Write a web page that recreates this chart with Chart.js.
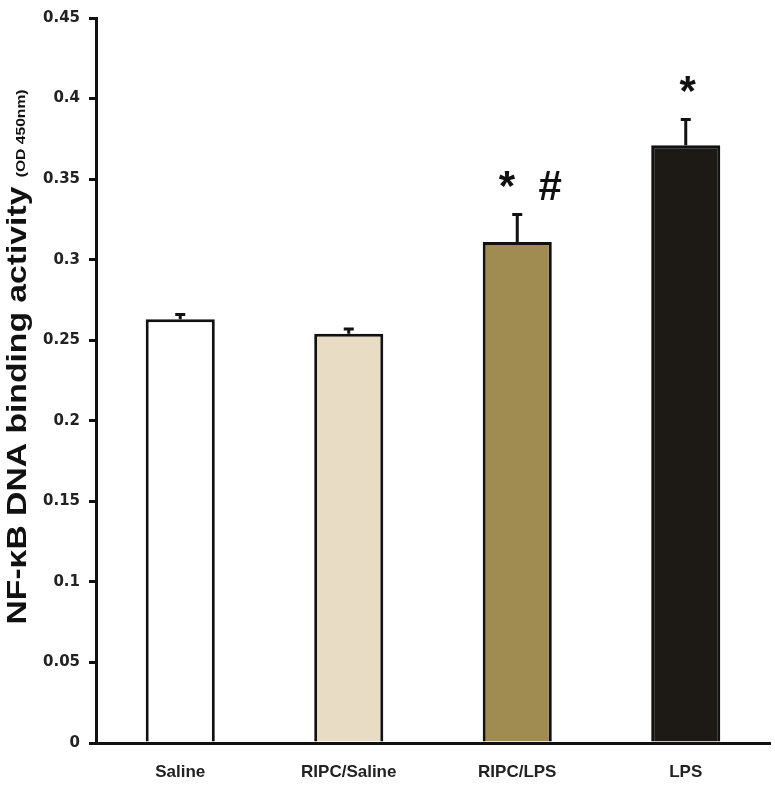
<!DOCTYPE html>
<html lang="en">
<head>
  <meta charset="UTF-8">
  <title>NF-kB DNA binding activity</title>
  <style>
    html, body {
      margin: 0;
      padding: 0;
      background: #fff;
    }
    .chart-box {
      width: 775px;
      height: 786px;
    }
  </style>
  <script src="https://cdn.jsdelivr.net/npm/chart.js"></script>
</head>
<body>
  <div class="chart-box">
    <canvas id="nfkbChart"></canvas>
  </div>

  <script>
    // data
    const groups = ['Saline', 'RIPC/Saline', 'RIPC/LPS', 'LPS'];
    const activity = [0.263, 0.254, 0.311, 0.371];
    const errorUp = [0.003, 0.003, 0.017, 0.016];
    const marks = ['', '', '*  #', '*'];
    const barColors = ['#ffffff', '#e9dcc5', '#a08c50', '#1d1915'];
    const yTicks = [0, 0.05, 0.1, 0.15, 0.2, 0.25, 0.3, 0.35, 0.4, 0.45];

    // error bars + significance marks
    const errorBars = {
      id: 'errorBars',
      afterDatasetsDraw(chart) {
        const ctx = chart.ctx;
        const yScale = chart.scales.y;
        const meta = chart.getDatasetMeta(0);
        ctx.save();
        ctx.strokeStyle = '#111';
        ctx.lineWidth = 3;
        meta.data.forEach((bar, i) => {
          const top = yScale.getPixelForValue(activity[i]);
          const cap = yScale.getPixelForValue(activity[i] + errorUp[i]);
          ctx.beginPath();
          ctx.moveTo(bar.x, top);
          ctx.lineTo(bar.x, cap);
          ctx.moveTo(bar.x - 5, cap);
          ctx.lineTo(bar.x + 5, cap);
          ctx.stroke();

          if (marks[i]) {
            ctx.fillStyle = '#111';
            ctx.font = 'bold 42px "Liberation Sans", Arial, sans-serif';
            ctx.textAlign = 'center';
            ctx.textBaseline = 'alphabetic';
            const shift = marks[i].length > 1 ? 13 : 2;
            ctx.fillText(marks[i], bar.x + shift, cap - 15);
          }
        });
        ctx.restore();
      }
    };

    // y axis title: big main text + small unit, stretched a bit along its length like the original
    const yTitle = {
      id: 'yTitle',
      afterDraw(chart) {
        const ctx = chart.ctx;
        const big = 'bold 28px "Liberation Sans", Arial, sans-serif';
        const small = 'bold 13px "Liberation Sans", Arial, sans-serif';
        const main = 'NF-\u03baB DNA binding activity ';
        const sub = '(OD 450nm)';
        const span = 535;
        ctx.save();
        ctx.font = big;
        const w1 = ctx.measureText(main).width;
        ctx.font = small;
        const w2 = ctx.measureText(sub).width;
        const stretch = span / (w1 + w2);
        ctx.translate(26, 357);
        ctx.rotate(-Math.PI / 2);
        ctx.scale(stretch, 1);
        ctx.fillStyle = '#111';
        ctx.textBaseline = 'alphabetic';
        ctx.textAlign = 'left';
        const start = -(w1 + w2) / 2;
        ctx.font = big;
        ctx.fillText(main, start, 0);
        ctx.font = small;
        ctx.fillText(sub, start + w1, -1);
        ctx.restore();
      }
    };

    new Chart(document.getElementById('nfkbChart'), {
      type: 'bar',
      data: {
        labels: groups,
        datasets: [{
          data: activity,
          backgroundColor: barColors,
          borderColor: '#111',
          borderWidth: 3,
          categoryPercentage: 1,
          barPercentage: 0.41
        }]
      },
      options: {
        responsive: true,
        maintainAspectRatio: false,
        animation: false,
        layout: {
          padding: { top: 13, right: 5, left: 0, bottom: 0 }
        },
        plugins: {
          legend: { display: false },
          tooltip: { enabled: false }
        },
        scales: {
          x: {
            afterFit(scale) { scale.height = 43; },
            grid: { display: false },
            border: { display: true, color: '#111', width: 3 },
            ticks: {
              color: '#222',
              padding: 11,
              font: { family: '"Liberation Sans", Arial, sans-serif', size: 17, weight: 'bold' }
            }
          },
          y: {
            min: 0,
            max: 0.45,
            afterFit(scale) { scale.width = 96; },
            afterBuildTicks(scale) {
              scale.ticks = yTicks.map(v => ({ value: v }));
            },
            grid: {
              drawOnChartArea: false,
              drawTicks: true,
              tickLength: 7,
              color: '#111',
              lineWidth: 3
            },
            border: { display: true, color: '#111', width: 3 },
            ticks: {
              color: '#222',
              padding: 9,
              font: { family: '"DejaVu Sans", Arial, sans-serif', size: 15, weight: 'bold' },
              callback: v => String(Number(v.toFixed(2)))
            }
          }
        }
      },
      plugins: [errorBars, yTitle]
    });
  </script>
</body>
</html>
